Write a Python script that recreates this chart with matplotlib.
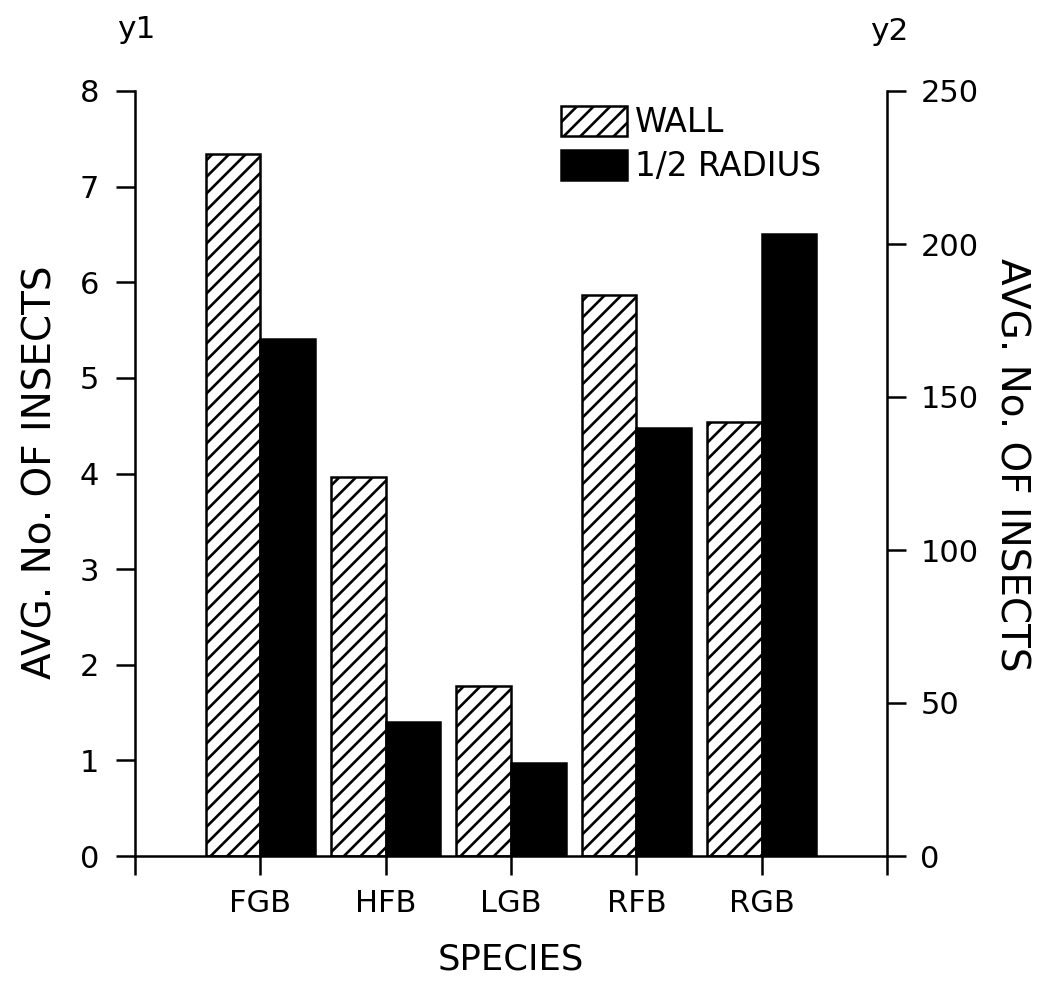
import matplotlib
matplotlib.use("Agg")
import matplotlib.pyplot as plt
import numpy as np

species = ["FGB", "HFB", "LGB", "RFB", "RGB"]
wall = [7.34, 3.96, 1.78, 5.87, 4.54]
half_radius = [5.41, 1.40, 0.97, 4.48, 6.50]
y1_ticks = [0, 1, 2, 3, 4, 5, 6, 7, 8]
y2_ticks = [0, 50, 100, 150, 200, 250]

plt.rcParams['font.family'] = ['DejaVu Sans']
plt.rcParams['hatch.linewidth'] = 1.9
plt.rcParams['hatch.color'] = 'black'

W, H = 1039, 985
fig = plt.figure(figsize=(W / 100, H / 100), dpi=100)
ax = fig.add_axes([135 / W, 1 - 856 / H, (887 - 135) / W, (856 - 91) / H])

x = np.arange(1, len(species) + 1)
bw = 0.435
ax.bar(x - bw, wall, width=bw, align='edge', facecolor='white', edgecolor='black',
       linewidth=1.8, hatch='//', label='WALL')
ax.bar(x, half_radius, width=bw, align='edge', facecolor='black', edgecolor='black',
       linewidth=1.8, label='1/2 RADIUS')

fs = 22
ax.set_xlim(0, 6)
ax.set_ylim(0, 8)
ax.set_yticks(y1_ticks)
ax.set_yticklabels([str(v) for v in y1_ticks])
ax.set_xticks(list(range(0, 7)))
ax.set_xticklabels([""] + species + [""])
for s in ['top', 'right']:
    ax.spines[s].set_visible(False)
ax.spines['left'].set_linewidth(1.8)
ax.spines['bottom'].set_linewidth(1.8)
ax.tick_params(axis='y', direction='out', length=14, width=1.8, labelsize=fs, pad=12)
ax.tick_params(axis='x', direction='out', length=14, width=1.8, labelsize=fs, pad=10)

ax2 = ax.twinx()
ax2.set_ylim(0, 250)
ax2.set_yticks(y2_ticks)
ax2.set_yticklabels([str(v) for v in y2_ticks])
for s in ['top', 'left', 'bottom']:
    ax2.spines[s].set_visible(False)
ax2.spines['right'].set_linewidth(1.8)
ax2.tick_params(axis='y', direction='out', length=14, width=1.8, labelsize=fs, pad=10)

lab_fs = 28
fig.text(41 / W, 1 - 472 / H, "AVG. No. OF INSECTS", rotation=90, ha='center', va='center', fontsize=lab_fs)
fig.text(1012 / W, 1 - 465 / H, "AVG. No. OF INSECTS", rotation=-90, ha='center', va='center', fontsize=lab_fs)
fig.text(511 / W, 1 - 960 / H, "SPECIES", ha='center', va='center', fontsize=25.5)
fig.text(136 / W, 1 - 29 / H, "y1", ha='center', va='center', fontsize=22.5)
fig.text(889 / W, 1 - 31 / H, "y2", ha='center', va='center', fontsize=22.5)

lfs = 23.5
px = lfs * 100 / 72
h, l = ax.get_legend_handles_labels()
leg = fig.legend(h, l, loc='upper left', bbox_to_anchor=(561 / W, 1 - 106 / H),
                 frameon=False, fontsize=lfs, handlelength=66 / px, handleheight=33 / px,
                 labelspacing=11 / px, handletextpad=8 / px, borderpad=0, borderaxespad=0)

fig.savefig("out.png", dpi=100)
